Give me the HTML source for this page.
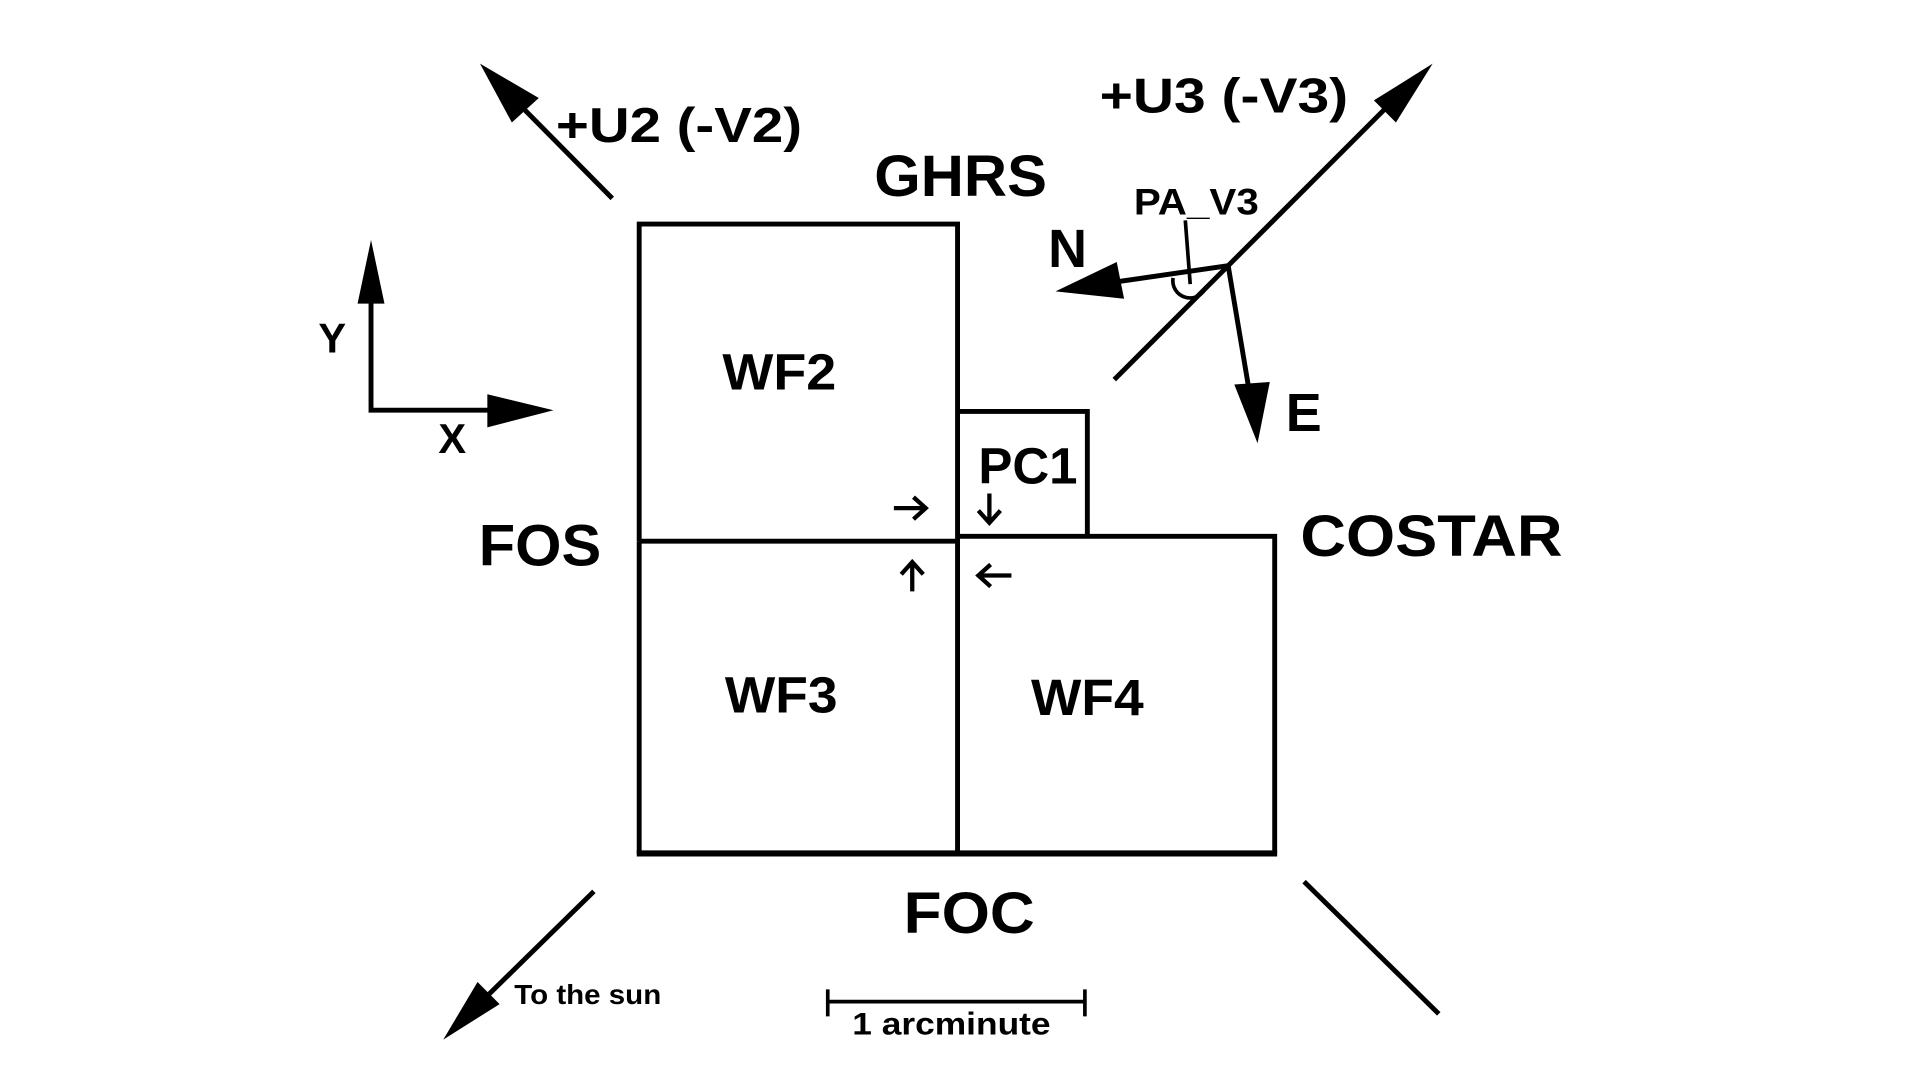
<!DOCTYPE html>
<html><head><style>html,body{margin:0;padding:0;background:#fff;width:1920px;height:1080px;overflow:hidden}</style></head>
<body>
<svg width="1920" height="1080" viewBox="0 0 1568 882" xmlns="http://www.w3.org/2000/svg" font-family="'Liberation Sans', sans-serif" font-weight="bold">
<rect width="1568" height="882" fill="#fff"/>
<g stroke="#000" fill="none" stroke-width="4">
<path d="M522 442 V183 H782 V697"/>
<path d="M522 442 H782"/>
<path d="M782 336 H888 V438"/>
<path d="M782 438 H1041 V697"/>
<path d="M522 442 V697"/>
<path d="M520 697 H1043" stroke-width="5"/>
<path d="M500 162 L410 71"/>
<path d="M910 310 L1150 70"/>
<path d="M1003 217 L885 234"/>
<path d="M1003 217 L1022 330"/>
<path d="M968 180 L972 232" stroke-width="3"/>
<path d="M958 227 A14 14 0 0 0 985 234" stroke-width="3"/>
<path d="M303 337 V230 M303 335 H410"/>
<path d="M485 728 L385 826"/>
<path d="M1065 720 L1175 828"/>
<path d="M676 818 H886 M676 808 V830 M886 808 V830" stroke-width="3"/>
<path d="M730 415 H755 M746 406 L756 415 L746 424" stroke-width="3.5"/>
<path d="M808 403 V425 M799 417 L808 427 L817 417" stroke-width="3.5"/>
<path d="M745 483 V460 M736 469 L745 459 L754 469" stroke-width="3.5"/>
<path d="M826 470 H800 M809 461 L799 470 L809 479" stroke-width="3.5"/>
</g>
<g fill="#000">
<polygon points="392,52 440,80 418,100"/>
<polygon points="1170,52 1122,82 1140,100"/>
<polygon points="862,238 912,214 918,244"/>
<polygon points="1027,362 1008,314 1037,312"/>
<polygon points="303,196 292,248 314,248"/>
<polygon points="452,335 398,322 398,349"/>
<polygon points="362,849 390,802 408,820"/>
</g>
<g fill="#000">
<text x="454" y="116" font-size="40" textLength="201" lengthAdjust="spacingAndGlyphs">+U2 (-V2)</text>
<text x="898" y="92" font-size="40" textLength="203" lengthAdjust="spacingAndGlyphs">+U3 (-V3)</text>
<text x="714" y="160" font-size="48" textLength="141" lengthAdjust="spacingAndGlyphs">GHRS</text>
<text x="926" y="175" font-size="30" textLength="102" lengthAdjust="spacingAndGlyphs">PA_V3</text>
<text x="856" y="218" font-size="44">N</text>
<text x="1050" y="352" font-size="44">E</text>
<text x="260" y="288" font-size="34">Y</text>
<text x="358" y="370" font-size="34">X</text>
<text x="590" y="318" font-size="42" textLength="93" lengthAdjust="spacingAndGlyphs">WF2</text>
<text x="799" y="395" font-size="42" textLength="81" lengthAdjust="spacingAndGlyphs">PC1</text>
<text x="391" y="462" font-size="48" textLength="100" lengthAdjust="spacingAndGlyphs">FOS</text>
<text x="1062" y="454" font-size="48" textLength="214" lengthAdjust="spacingAndGlyphs">COSTAR</text>
<text x="592" y="582" font-size="42" textLength="92" lengthAdjust="spacingAndGlyphs">WF3</text>
<text x="842" y="584" font-size="42" textLength="92" lengthAdjust="spacingAndGlyphs">WF4</text>
<text x="738" y="762" font-size="48" textLength="107" lengthAdjust="spacingAndGlyphs">FOC</text>
<text x="420" y="820" font-size="23" textLength="120" lengthAdjust="spacingAndGlyphs">To the sun</text>
<text x="696" y="845" font-size="26" textLength="162" lengthAdjust="spacingAndGlyphs">1 arcminute</text>
</g>
</svg>
</body></html>
